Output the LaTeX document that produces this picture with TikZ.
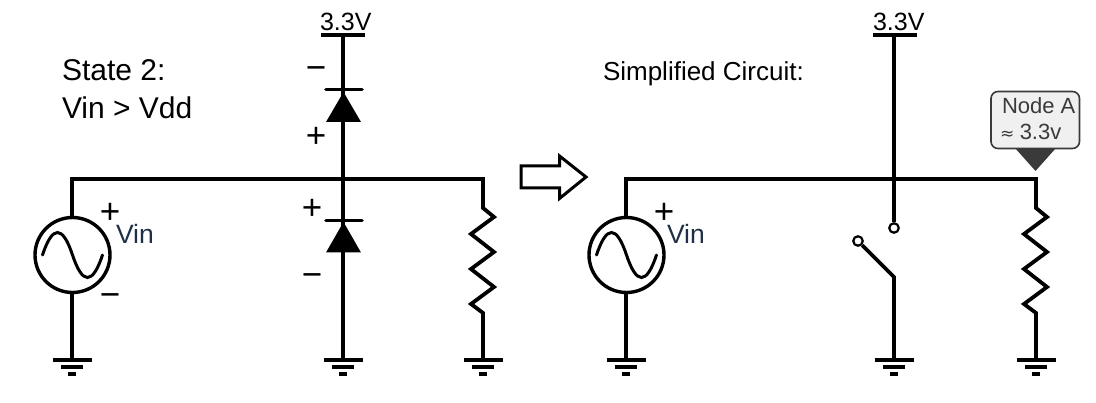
\documentclass[tikz,border=0pt]{standalone}
\usepackage{fontspec}
\setmainfont{Liberation Sans}
\usetikzlibrary{calc}
\definecolor{vincol}{HTML}{1F2F45}
\definecolor{calloutfill}{HTML}{F0F0F0}
\definecolor{calloutdark}{HTML}{3A3A3A}
\tikzset{
  x=1pt,y=-1pt,
  wire/.style={line width=3.8pt,line join=miter},
  lbl/.style={inner sep=0pt,outer sep=0pt,anchor=base west,text=black},
  sign/.style={inner sep=0pt,outer sep=0pt,font=\fontsize{35}{35}\selectfont},
  pt/.style={coordinate},
  ring/.style={circle,draw,line width=2.2pt,fill=white,minimum size=9.5pt,inner sep=0pt},
  source/.style={circle,draw,line width=3.4pt,minimum size=75pt,inner sep=0pt},
  gnd/.pic={
    \draw[line width=4pt] (-19.5,0) -- (19.5,0);
    \draw[line width=4pt] (-11,7.5) -- (11,7.5);
    \draw[line width=4pt] (-4,14.5) -- (4,14.5);
  },
  sinewave/.pic={
    \draw[line width=3pt,line cap=round] (-30,0) .. controls (-20,-30) and (-10,-30) .. (0,0)
       .. controls (10,30) and (20,30) .. (30,0);
  },
}
\begin{document}
\begin{tikzpicture}
\useasboundingbox (0,0) rectangle (1096,403);
% ---------- left circuit ----------
\node[source] (s1) at (72.5,255) {};
\pic at (s1.center) {sinewave};
\node[pt] (s1top) at (72,179) {};
\node[pt] (j1) at (343,179) {};
\node[pt] (r1top) at (483,179) {};
\node[pt] (g1) at (72,360) {};
\node[pt] (g2) at (343,360) {};
\node[pt] (g3) at (482,360) {};
\node[pt] (vdd1) at (343,35) {};
\draw[wire] (s1.north -| s1top) -- (s1top) -- (r1top) -- (483,208) -- (494,217) -- (471,234) -- (494,252) -- (471,269) -- (494,287) -- (471,304) -- (483,313) -- (g3 -| r1top);
\draw[wire] (s1.south -| g1) -- (g1);
\draw[wire] (vdd1) -- (g2);
\draw[line width=4pt] (321,35) -- (365,35);
\pic at (g1) {gnd};
\pic at (g2) {gnd};
\pic at (r1top |- g3) {gnd};
% diodes
\draw[line width=3.6pt,line cap=round] (326,89.5) -- (362,89.5);
\fill (343.5,92) -- (361,122) -- (326,122) -- cycle;
\draw[line width=3.6pt,line cap=round] (326,220.5) -- (362,220.5);
\fill (343.5,222) -- (361,252.5) -- (326,252.5) -- cycle;
% labels
\node[lbl] (v1) at (320,31) {\fontsize{25}{25}\selectfont 3.3V};
\node[lbl] (st) at (62,81) {\fontsize{30}{30}\selectfont State 2:};
\node[lbl] (st2) at (62,119) {\fontsize{30}{30}\selectfont Vin > Vdd};
\node[lbl,text=vincol] (vin1) at (116,244) {\fontsize{26.5}{26.5}\selectfont Vin};
\node[sign] (p1) at (110,213.5) {+};
\node[sign] (m1) at (110,300) {−};
\node[sign] (m2) at (316,73) {−};
\node[sign] (p2) at (316,137.5) {+};
\node[sign] (p3) at (312,209.5) {+};
\node[sign] (m3) at (312,280) {−};
% big arrow
\draw[line width=3pt,line join=miter,fill=white] (521,166) -- (559.5,166) -- (559.5,156) -- (586,177) -- (559.5,198.5) -- (559.5,188) -- (521,188) -- cycle;
% ---------- right circuit ----------
\node[source] (s2) at (626.5,255) {};
\pic at (s2.center) {sinewave};
\node[pt] (s2top) at (626,179) {};
\node[pt] (j2) at (894,179) {};
\node[pt] (r2top) at (1036,179) {};
\node[pt] (g4) at (626,360) {};
\node[pt] (g5) at (894,360) {};
\node[pt] (g6) at (1036,360) {};
\node[pt] (vdd2) at (894,35) {};
\draw[wire] (s2.north -| s2top) -- (s2top) -- (r2top) -- (1036,208) -- (1047,217) -- (1024,234) -- (1047,252) -- (1024,269) -- (1047,287) -- (1024,304) -- (1036,313) -- (g6);
\draw[wire] (s2.south -| g4) -- (g4);
\node[ring] (sw1) at (894,228) {};
\node[ring] (sw2) at (858,241) {};
\node[pt] (knee) at (894,277) {};
\draw[wire] (vdd2) -- (sw1);
\draw[wire] (sw2) -- (knee) -- (g5);
\draw[line width=4pt] (873,35) -- (917,35);
\pic at (g4) {gnd};
\pic at (g5) {gnd};
\pic at (g6) {gnd};
\node[lbl] (v2) at (873,31) {\fontsize{25}{25}\selectfont 3.3V};
\node[lbl] (sc) at (603,81) {\fontsize{26}{26}\selectfont Simplified Circuit:};
\node[lbl,text=vincol] (vin2) at (667,244) {\fontsize{26.5}{26.5}\selectfont Vin};
\node[sign] (p4) at (664,213.5) {+};
% callout
\fill[calloutdark] (1015,148) -- (1056,148) -- (1035.5,171) -- cycle;
\draw[calloutdark,line width=1.6pt,fill=calloutfill,rounded corners=7pt] (991,91.5) rectangle (1079.5,148.5);
\node[lbl,text=calloutdark] (na) at (1002,114) {\fontsize{22}{22}\selectfont Node A};
\node[lbl,text=calloutdark] (nb) at (1000,140) {{\fontspec{DejaVu Sans}\fontsize{17}{17}\selectfont ≈}\hspace{5.5pt}\fontsize{22}{22}\selectfont 3.3v};
\end{tikzpicture}
\end{document}
